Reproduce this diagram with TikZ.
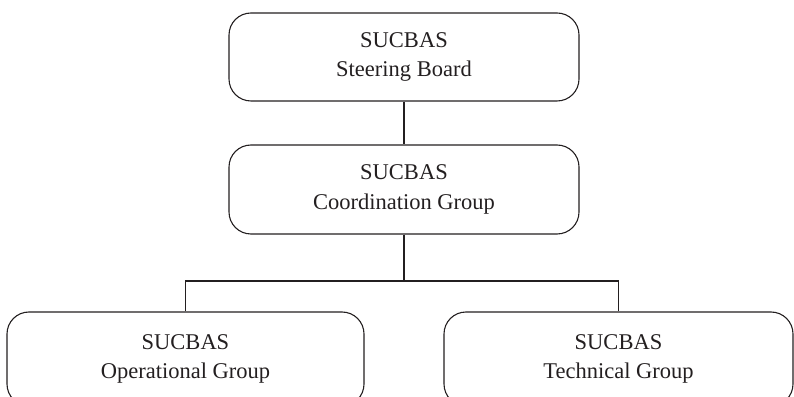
\documentclass[tikz,border=0pt]{standalone}
\usepackage{fontspec}
\setmainfont{Liberation Serif}
\definecolor{inkcol}{HTML}{231F20}
\tikzset{
  orgbox/.style={draw=inkcol, line width=1.1pt, rounded corners=22pt, align=center,
    inner sep=0pt, text=inkcol, font=\fontsize{22.5}{29.5}\selectfont},
  link/.style={draw=inkcol, line width=1.1pt}
}
\begin{document}
\begin{tikzpicture}[x=1pt,y=1pt]
  \useasboundingbox (0,0) rectangle (794,396);
  \clip (0,0) rectangle (794,396);
  \node[orgbox, minimum width=350pt, minimum height=88pt] (board) at (404,339) {SUCBAS\\Steering Board};
  \node[orgbox, minimum width=350pt, minimum height=89pt] (coord) at (404,206.5) {SUCBAS\\Coordination Group};
  \node[orgbox, minimum width=357pt, minimum height=94pt] (oper) at (185.5,37) {SUCBAS\\Operational Group};
  \node[orgbox, minimum width=349pt, minimum height=94pt] (tech) at (618.5,37) {SUCBAS\\Technical Group};
  \coordinate (j) at (404,115);
  \draw[link] (board.south) -- (coord.north);
  \draw[link] (coord.south) -- (j);
  \draw[link] (oper.north) |- (j) -| (tech.north);
\end{tikzpicture}
\end{document}
